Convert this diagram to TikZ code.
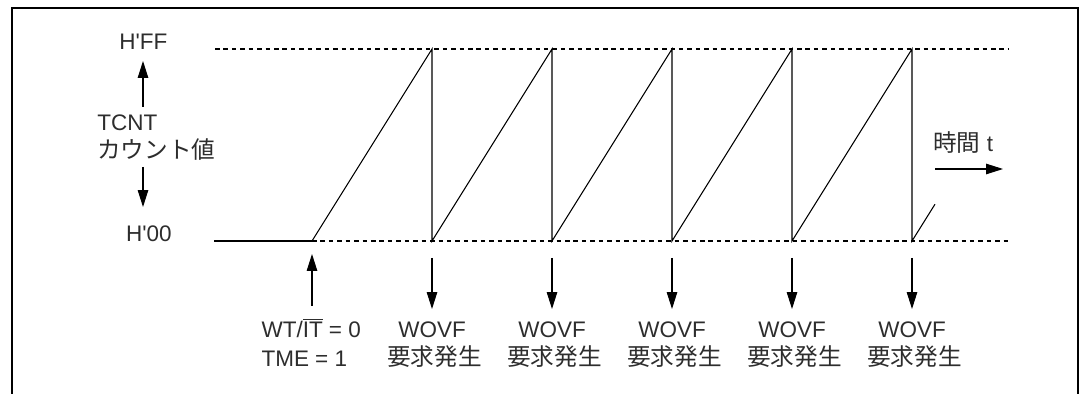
\documentclass[tikz,border=0pt]{standalone}
\usepackage{fontspec}
\setmainfont{Liberation Sans}
\newfontfamily\cjk[Scale=1.05]{Noto Sans CJK JP}
\usetikzlibrary{arrows.meta}
\definecolor{txtgray}{RGB}{45,45,45}

\begin{document}
\begin{tikzpicture}[
    line width=0.75pt,
    arr/.style={-{Triangle[length=0.42cm,width=0.26cm]}},
    lvl/.style={dash pattern=on 3.2pt off 2.8pt},
    lbl/.style={font=\fontsize{16}{19}\selectfont, text=txtgray, inner sep=0pt}]
    \useasboundingbox (0,0) rectangle (27,9.85);
    %% frame, open at the bottom
    \draw (0.3,0) -- (0.3,9.65) -- (26.95,9.65) -- (26.95,0);

    %% counter levels
    \coordinate (ffa) at (5.375,8.625);
    \coordinate (ffb) at (25.2,8.625);
    \coordinate (zza) at (5.35,3.825);
    \coordinate (start) at (7.8,3.825);
    \coordinate (zzb) at (25.2,3.825);
    \draw[lvl] (ffa) -- (ffb);
    \draw[lvl] (start) -- (zzb);
    \draw (zza) -- (start);

    %% sawtooth of TCNT
    \draw (start) -- (10.8,8.625)
      \foreach \x in {10.8,13.8,16.8,19.8} { -- (\x,3.825) -- (\x+3,8.625) }
      -- (22.8,3.825) -- (23.375,4.745);

    %% vertical axis labels
    \node[lbl, anchor=base] (hff) at (3.583,8.6) {H\textquotesingle FF};
    \node[lbl, anchor=base] (hzz) at (3.72,3.8) {H\textquotesingle 00};
    \node[lbl, anchor=base west] (tcnt) at (2.42,6.58) {TCNT};
    \node[lbl, anchor=base west] (cval) at (2.42,5.875) {\cjk カウント値};
    \coordinate (upa) at (3.575,7.175);
    \coordinate (upb) at (3.575,8.325);
    \coordinate (dna) at (3.575,5.675);
    \coordinate (dnb) at (3.575,4.675);
    \draw[arr] (upa) -- (upb);
    \draw[arr] (dna) -- (dnb);

    %% timer start
    \coordinate (sta) at (7.8,2.2);
    \coordinate (stb) at (7.8,3.5);
    \draw[arr] (sta) -- (stb);
    \node[lbl, anchor=base west] (wtit) at (6.525,1.42) {WT/$\overline{\hbox{IT}}$ = 0};
    \node[lbl, anchor=base west] (tme) at (6.525,0.69) {TME = 1};

    %% overflow requests
    \foreach \x [count=\i] in {10.8,13.8,16.8,19.8,22.8} {
      \coordinate (ov\i) at (\x,3.4);
      \coordinate (tip\i) at (\x,2.125);
      \draw[arr] (ov\i) -- (tip\i);
      \node[lbl, anchor=base] (wovf\i) at (\x,1.42) {WOVF};
      \node[lbl, anchor=base] (req\i) at (\x+0.06,0.71) {\cjk 要求発生};
    }

    %% time axis
    \node[lbl, anchor=base west] (time) at (23.32,6.06) {{\cjk 時間} t};
    \coordinate (tma) at (23.375,5.625);
    \coordinate (tmb) at (25.075,5.625);
    \draw[arr] (tma) -- (tmb);
\end{tikzpicture}
\end{document}
